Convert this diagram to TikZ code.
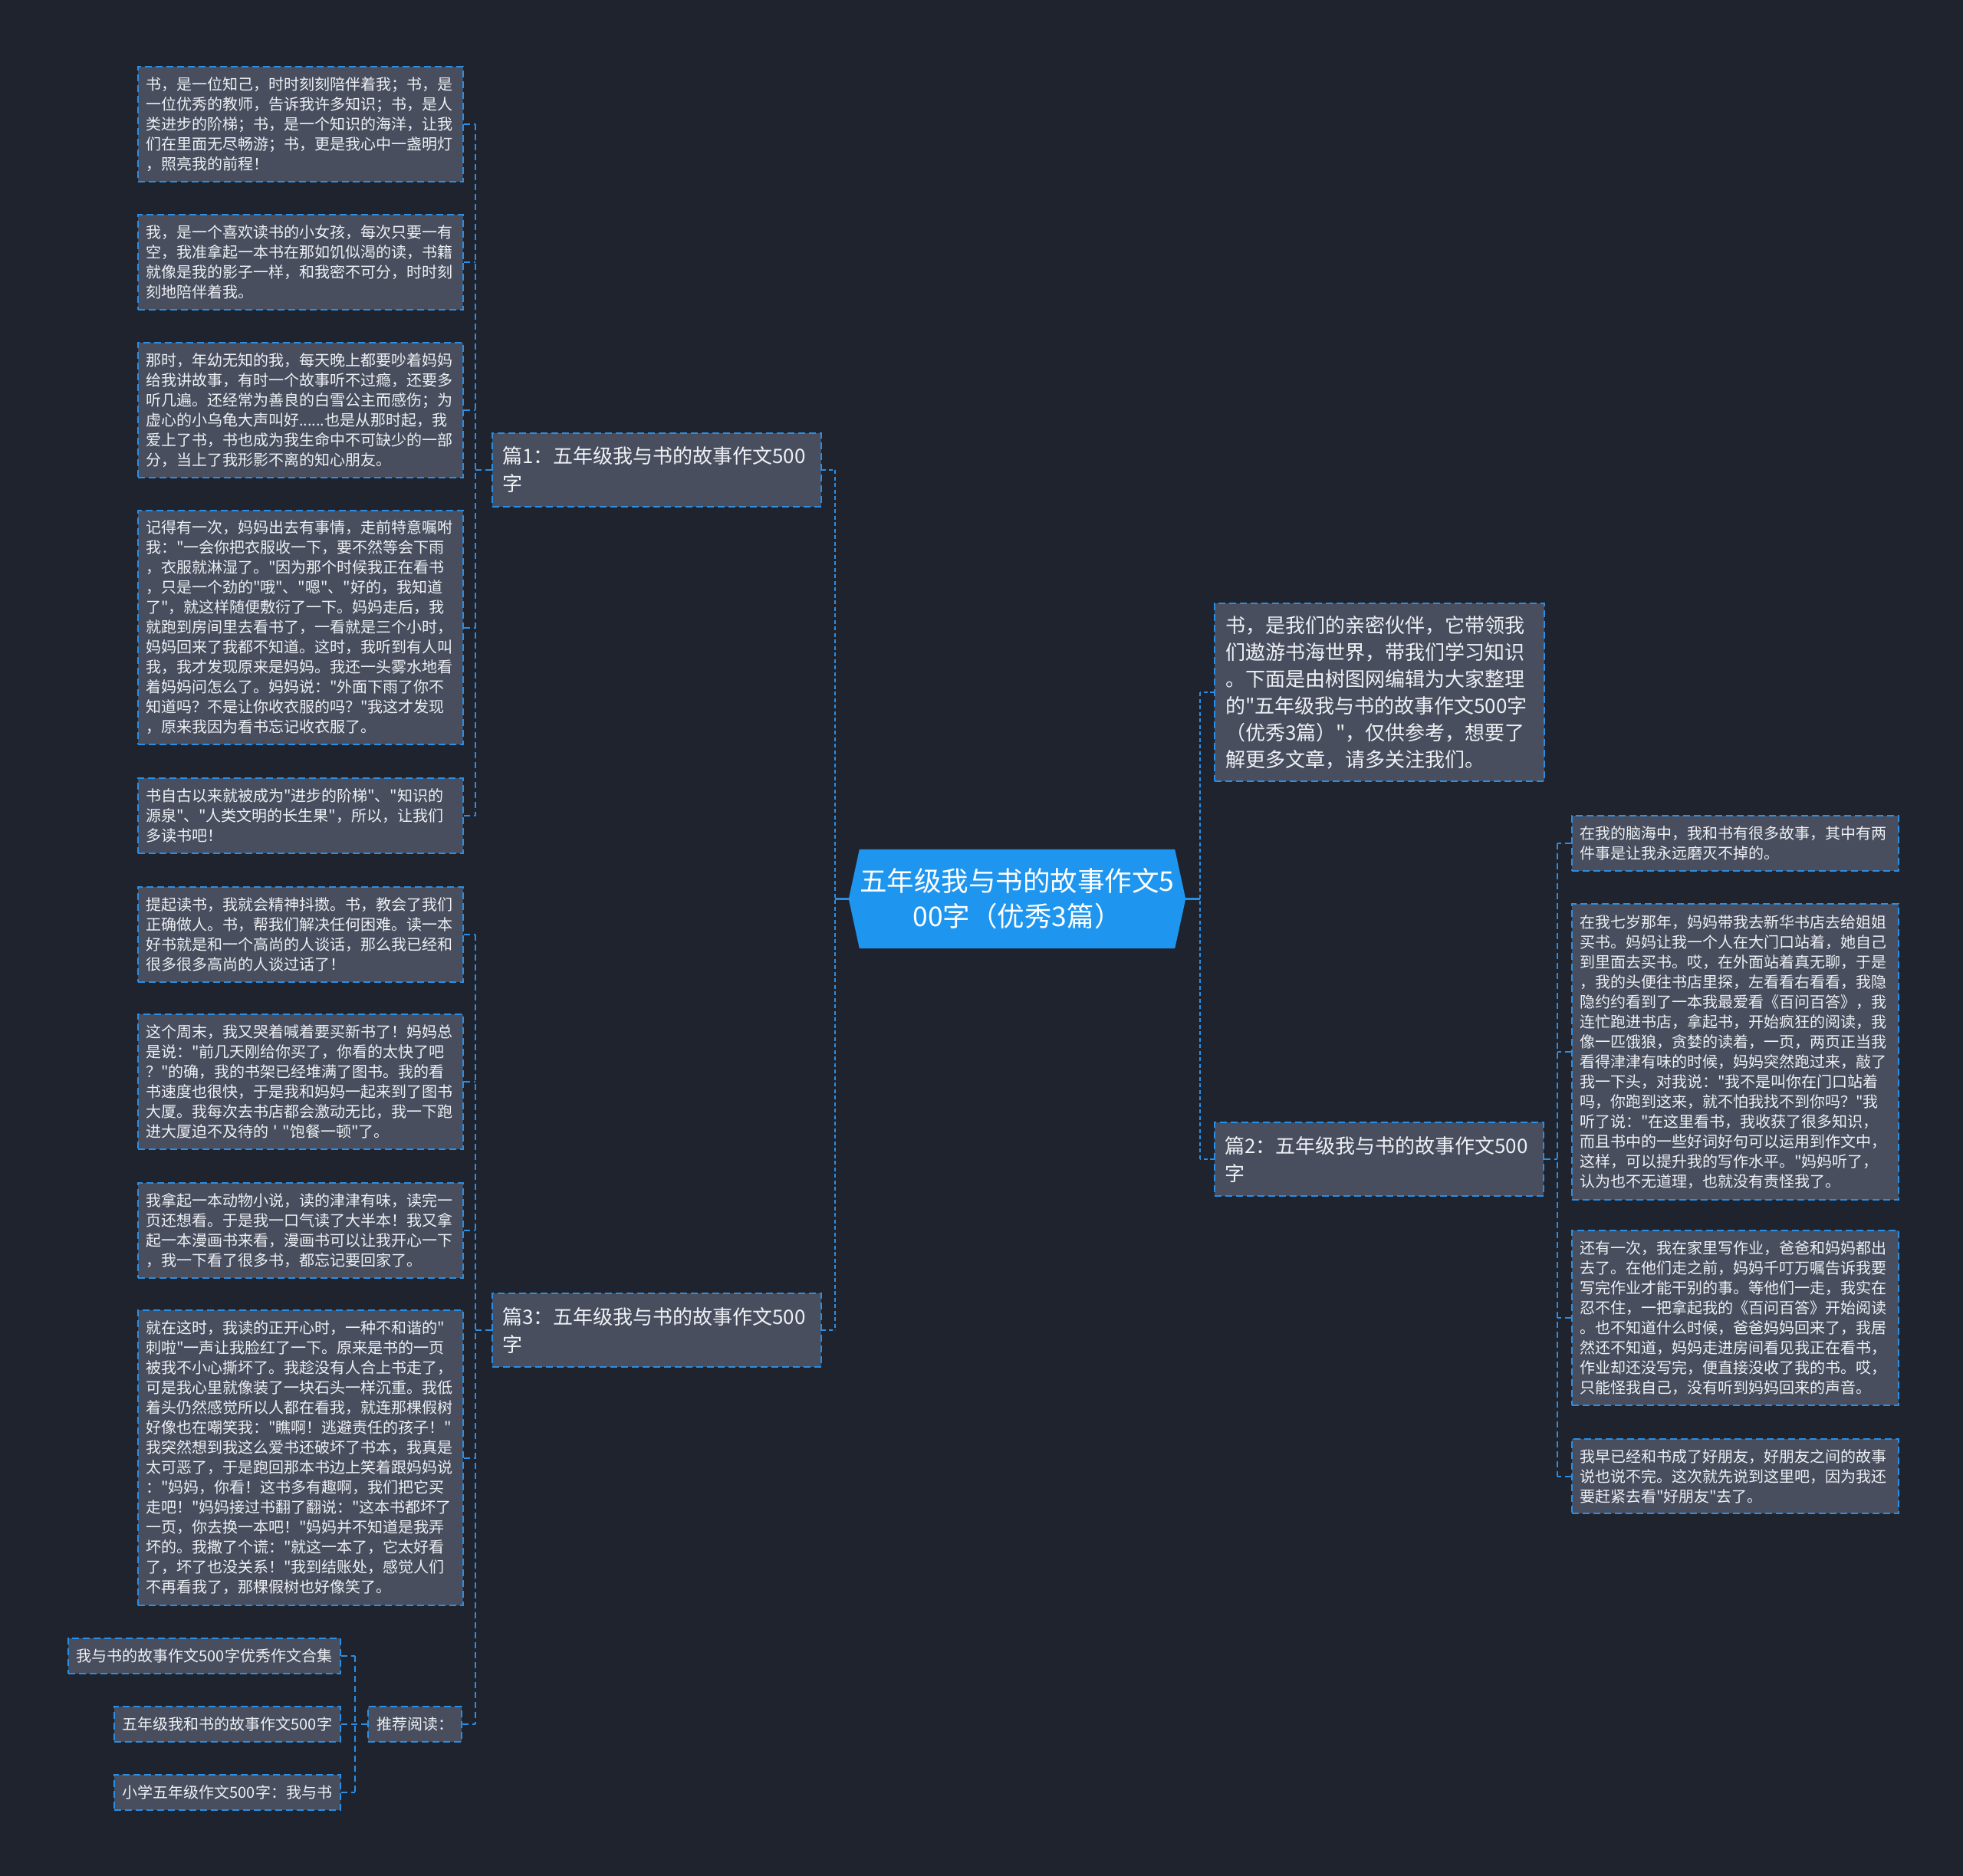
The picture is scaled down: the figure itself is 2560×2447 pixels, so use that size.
\documentclass[tikz,border=0pt]{standalone}
\usepackage{fontspec}
\newfontfamily\cjk{Noto Sans CJK SC}
\usetikzlibrary{backgrounds}
\definecolor{bgc}{RGB}{31,35,46}
\definecolor{nfill}{RGB}{72,78,94}
\definecolor{bdr}{RGB}{41,142,229}
\definecolor{cfill}{RGB}{30,150,240}
\definecolor{txt}{RGB}{238,240,244}
\begin{document}
\begin{tikzpicture}[x=1pt,y=-1pt,
  leaf/.style={draw=bdr, fill=nfill, line width=2pt, dash pattern=on 9pt off 5pt,
    anchor=north west, inner xsep=10pt, inner ysep=0pt, text width=404pt,
    align=left, text=txt, font=\cjk\fontsize{20}{26}\selectfont},
  rleaf/.style={leaf, text width=406pt},
  branch/.style={leaf, inner xsep=13pt, text width=403pt, minimum height=96pt,
    font=\cjk\fontsize{26}{36}\selectfont},
  intro/.style={leaf, inner xsep=14pt, text width=402pt,
    font=\cjk\fontsize{26}{35}\selectfont},
  small/.style={draw=bdr, fill=nfill, line width=2pt, dash pattern=on 9pt off 5pt,
    anchor=north east, inner xsep=11pt, inner ysep=0pt, minimum height=46pt,
    text=txt, font=\cjk\fontsize{20}{26}\selectfont},
  cnode/.style={inner sep=0pt, minimum width=439pt, minimum height=129pt,
    align=center, text=white, font=\cjk\fontsize{35.5}{46}\selectfont},
  conn/.style={draw=bdr, line width=2pt, dash pattern=on 8pt off 5pt},
  ctrunk/.style={draw=bdr, line width=2.5pt, dash pattern=on 5pt off 3.5pt},
  cstub/.style={draw=bdr, line width=2.5pt}
]
\useasboundingbox (0,0) rectangle (2560,2447);

% trunk positions
\coordinate (tL) at (620,0);
\coordinate (tC) at (1089,0);
\coordinate (tR) at (1565,0);
\coordinate (tRR) at (2031,0);
\coordinate (tB) at (463,0);

% centre
\node[cnode] (c) at (1326.5,1172.5) {五年级我与书的故事作文5\\00字（优秀3篇）};

% branches
\node[branch] (b1) at (641,564) {篇1：五年级我与书的故事作文500\\字};
\node[branch] (b3) at (641,1686) {篇3：五年级我与书的故事作文500\\字};
\node[intro, minimum height=232pt] (intro) at (1583,786) {书，是我们的亲密伙伴，它带领我\\们遨游书海世界，带我们学习知识\\。下面是由树图网编辑为大家整理\\的"五年级我与书的故事作文500字\\（优秀3篇）"，仅供参考，想要了\\解更多文章，请多关注我们。};
\node[branch] (b2) at (1583,1463) {篇2：五年级我与书的故事作文500\\字};

% left leaves (篇1)
\node[leaf, minimum height=150pt] (L1) at (179,86) {书，是一位知己，时时刻刻陪伴着我；书，是\\一位优秀的教师，告诉我许多知识；书，是人\\类进步的阶梯；书，是一个知识的海洋，让我\\们在里面无尽畅游；书，更是我心中一盏明灯\\，照亮我的前程！};
\node[leaf, minimum height=124pt] (L2) at (179,279) {我，是一个喜欢读书的小女孩，每次只要一有\\空，我准拿起一本书在那如饥似渴的读，书籍\\就像是我的影子一样，和我密不可分，时时刻\\刻地陪伴着我。};
\node[leaf, minimum height=176pt] (L3) at (179,446) {那时，年幼无知的我，每天晚上都要吵着妈妈\\给我讲故事，有时一个故事听不过瘾，还要多\\听几遍。还经常为善良的白雪公主而感伤；为\\虚心的小乌龟大声叫好......也是从那时起，我\\爱上了书，书也成为我生命中不可缺少的一部\\分，当上了我形影不离的知心朋友。};
\node[leaf, minimum height=305pt] (L4) at (179,665) {记得有一次，妈妈出去有事情，走前特意嘱咐\\我："一会你把衣服收一下，要不然等会下雨\\，衣服就淋湿了。"因为那个时候我正在看书\\，只是一个劲的"哦"、"嗯"、"好的，我知道\\了"，就这样随便敷衍了一下。妈妈走后，我\\就跑到房间里去看书了，一看就是三个小时，\\妈妈回来了我都不知道。这时，我听到有人叫\\我，我才发现原来是妈妈。我还一头雾水地看\\着妈妈问怎么了。妈妈说："外面下雨了你不\\知道吗？不是让你收衣服的吗？"我这才发现\\，原来我因为看书忘记收衣服了。};
\node[leaf, minimum height=98pt] (L5) at (179,1014) {书自古以来就被成为"进步的阶梯"、"知识的\\源泉"、"人类文明的长生果"，所以，让我们\\多读书吧！};

% left leaves (篇3)
\node[leaf, minimum height=124pt] (L6) at (179,1156) {提起读书，我就会精神抖擞。书，教会了我们\\正确做人。书，帮我们解决任何困难。读一本\\好书就是和一个高尚的人谈话，那么我已经和\\很多很多高尚的人谈过话了！};
\node[leaf, minimum height=176pt] (L7) at (179,1322) {这个周末，我又哭着喊着要买新书了！妈妈总\\是说："前几天刚给你买了，你看的太快了吧\\？"的确，我的书架已经堆满了图书。我的看\\书速度也很快，于是我和妈妈一起来到了图书\\大厦。我每次去书店都会激动无比，我一下跑\\进大厦迫不及待的 ' "饱餐一顿"了。};
\node[leaf, minimum height=124pt] (L8) at (179,1542) {我拿起一本动物小说，读的津津有味，读完一\\页还想看。于是我一口气读了大半本！我又拿\\起一本漫画书来看，漫画书可以让我开心一下\\，我一下看了很多书，都忘记要回家了。};
\node[leaf, minimum height=385pt] (L9) at (179,1708) {就在这时，我读的正开心时，一种不和谐的"\\刺啦"一声让我脸红了一下。原来是书的一页\\被我不小心撕坏了。我趁没有人合上书走了，\\可是我心里就像装了一块石头一样沉重。我低\\着头仍然感觉所以人都在看我，就连那棵假树\\好像也在嘲笑我："瞧啊！逃避责任的孩子！"\\我突然想到我这么爱书还破坏了书本，我真是\\太可恶了，于是跑回那本书边上笑着跟妈妈说\\："妈妈，你看！这书多有趣啊，我们把它买\\走吧！"妈妈接过书翻了翻说："这本书都坏了\\一页，你去换一本吧！"妈妈并不知道是我弄\\坏的。我撒了个谎："就这一本了，它太好看\\了，坏了也没关系！"我到结账处，感觉人们\\不再看我了，那棵假树也好像笑了。};

% recommended reading
\node[small] (rec) at (603,2225) {推荐阅读：};
\node[small] (ra) at (445,2136) {我与书的故事作文500字优秀作文合集};
\node[small] (rb) at (445,2225) {五年级我和书的故事作文500字};
\node[small] (rc) at (445,2314) {小学五年级作文500字：我与书};

% right leaves (篇2)
\node[rleaf, minimum height=72pt] (R1) at (2049,1063) {在我的脑海中，我和书有很多故事，其中有两\\件事是让我永远磨灭不掉的。};
\node[rleaf, minimum height=386pt] (R2) at (2049,1178) {在我七岁那年，妈妈带我去新华书店去给姐姐\\买书。妈妈让我一个人在大门口站着，她自己\\到里面去买书。哎，在外面站着真无聊，于是\\，我的头便往书店里探，左看看右看看，我隐\\隐约约看到了一本我最爱看《百问百答》，我\\连忙跑进书店，拿起书，开始疯狂的阅读，我\\像一匹饿狼，贪婪的读着，一页，两页正当我\\看得津津有味的时候，妈妈突然跑过来，敲了\\我一下头，对我说："我不是叫你在门口站着\\吗，你跑到这来，就不怕我找不到你吗？"我\\听了说："在这里看书，我收获了很多知识，\\而且书中的一些好词好句可以运用到作文中，\\这样，可以提升我的写作水平。"妈妈听了，\\认为也不无道理，也就没有责怪我了。};
\node[rleaf, minimum height=228pt] (R3) at (2049,1604) {还有一次，我在家里写作业，爸爸和妈妈都出\\去了。在他们走之前，妈妈千叮万嘱告诉我要\\写完作业才能干别的事。等他们一走，我实在\\忍不住，一把拿起我的《百问百答》开始阅读\\。也不知道什么时候，爸爸妈妈回来了，我居\\然还不知道，妈妈走进房间看见我正在看书，\\作业却还没写完，便直接没收了我的书。哎，\\只能怪我自己，没有听到妈妈回来的声音。};
\node[rleaf, minimum height=97pt] (R4) at (2049,1876) {我早已经和书成了好朋友，好朋友之间的故事\\说也说不完。这次就先说到这里吧，因为我还\\要赶紧去看"好朋友"去了。};

% background and centre shape
\begin{pgfonlayer}{background}
\fill[bgc] (0,0) rectangle (2560,2447);
\fill[cfill] ([xshift=14pt]c.north west) -- ([xshift=-14pt]c.north east) -- (c.east)
  -- ([xshift=-14pt]c.south east) -- ([xshift=14pt]c.south west) -- (c.west) -- cycle;
\end{pgfonlayer}

% centre connectors
\draw[cstub] (c.west) -- (c.west -| tC);
\draw[cstub] (c.east) -- (c.east -| tR);
\draw[ctrunk] (b1.east -| tC) -- (b3.east -| tC);
\draw[ctrunk] (b1.east) -- (b1.east -| tC);
\draw[ctrunk] (b3.east) -- (b3.east -| tC);
\draw[ctrunk] (intro.west -| tR) -- (b2.west -| tR);
\draw[ctrunk] (intro.west) -- (intro.west -| tR);
\draw[ctrunk] (b2.west) -- (b2.west -| tR);

% 篇1 connectors
\draw[conn] (L1.east -| tL) -- (L5.east -| tL);
\draw[conn] (b1.west) -- (b1.west -| tL);
\foreach \n in {L1,L2,L3,L4,L5} \draw[conn] (\n.east) -- (\n.east -| tL);

% 篇3 connectors
\draw[conn] (L6.east -| tL) -- (rec.east -| tL);
\draw[conn] (b3.west) -- (b3.west -| tL);
\foreach \n in {L6,L7,L8,L9,rec} \draw[conn] (\n.east) -- (\n.east -| tL);

% recommended connectors
\draw[conn] (ra.east -| tB) -- (rc.east -| tB);
\draw[conn] (rec.west) -- (rec.west -| tB);
\foreach \n in {ra,rb,rc} \draw[conn] (\n.east) -- (\n.east -| tB);

% 篇2 connectors
\draw[conn] (R1.west -| tRR) -- (R4.west -| tRR);
\draw[conn] (b2.east) -- (b2.east -| tRR);
\foreach \n in {R1,R2,R3,R4} \draw[conn] (\n.west) -- (\n.west -| tRR);
\end{tikzpicture}
\end{document}
